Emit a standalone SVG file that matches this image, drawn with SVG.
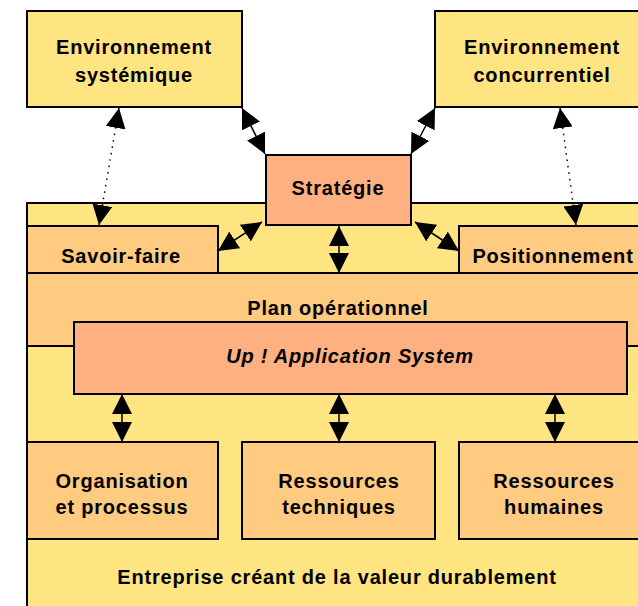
<svg xmlns="http://www.w3.org/2000/svg" width="638" height="606" viewBox="0 0 638 606">
<style>
  .y { fill: #FFE482; stroke: #000; stroke-width: 2; }
  .o { fill: #FECB80; stroke: #000; stroke-width: 2; }
  .s { fill: #FFB080; stroke: #000; stroke-width: 2; }
  text { font-family: "Liberation Sans", Arial, sans-serif; font-weight: bold; font-size: 20px; letter-spacing: 0.8px; text-anchor: middle; fill: #000; }
  .it { font-style: italic; letter-spacing: 0.8px; }
  .c { stroke: #000; stroke-width: 1.5; fill: none; }
  .d { stroke: #000; stroke-width: 1.5; fill: none; stroke-dasharray: 1.5 5; }
</style>
<defs>
  <marker id="ah" markerUnits="userSpaceOnUse" markerWidth="21" markerHeight="20" refX="20" refY="10" orient="auto-start-reverse" viewBox="0 0 21 20">
    <path d="M0,0 L20,10 L0,20 z" fill="#000"/>
  </marker>
</defs>
<rect width="638" height="606" fill="#fff"/>
<g id="entreprise">
  <rect class="y" x="27" y="203" width="630" height="420"/>
  <text x="337" y="584">Entreprise créant de la valeur durablement</text>
</g>
<g id="savoir-faire">
  <rect class="o" x="27" y="226" width="191" height="47"/>
  <text x="121" y="263">Savoir-faire</text>
</g>
<g id="positionnement">
  <rect class="o" x="459" y="226" width="190" height="47"/>
  <text x="553" y="263">Positionnement</text>
</g>
<g id="plan">
  <rect class="o" x="27" y="273" width="630" height="73"/>
  <text x="338" y="315">Plan opérationnel</text>
</g>
<g id="up">
  <rect class="s" x="74" y="322" width="553" height="72"/>
  <text class="it" x="350" y="363">Up ! Application System</text>
</g>
<g id="organisation">
  <rect class="o" x="27" y="442" width="191" height="97"/>
  <text x="122" y="488">Organisation</text>
  <text x="122" y="514">et processus</text>
</g>
<g id="ressources-techniques">
  <rect class="o" x="242" y="442" width="193" height="97"/>
  <text x="339" y="488">Ressources</text>
  <text x="339" y="514">techniques</text>
</g>
<g id="ressources-humaines">
  <rect class="o" x="459" y="442" width="190" height="97"/>
  <text x="554" y="488">Ressources</text>
  <text x="554" y="514">humaines</text>
</g>
<g id="env-systemique">
  <rect class="y" x="27" y="11" width="215" height="96"/>
  <text x="134" y="54">Environnement</text>
  <text x="134" y="82">systémique</text>
</g>
<g id="env-concurrentiel">
  <rect class="y" x="435" y="11" width="214" height="96"/>
  <text x="542" y="54">Environnement</text>
  <text x="542" y="82">concurrentiel</text>
</g>
<g id="connectors">
  <line class="d" x1="119" y1="108" x2="99" y2="225" marker-start="url(#ah)" marker-end="url(#ah)"/>
  <line class="d" x1="560" y1="108" x2="576" y2="225" marker-start="url(#ah)" marker-end="url(#ah)"/>
  <line class="c" x1="242" y1="108" x2="265" y2="154" marker-start="url(#ah)" marker-end="url(#ah)"/>
  <line class="c" x1="435" y1="108" x2="411" y2="154" marker-start="url(#ah)" marker-end="url(#ah)"/>
  <line class="c" x1="218" y1="251" x2="262" y2="222" marker-start="url(#ah)" marker-end="url(#ah)"/>
  <line class="c" x1="459" y1="251" x2="415" y2="222" marker-start="url(#ah)" marker-end="url(#ah)"/>
  <line class="c" x1="339" y1="226" x2="339" y2="273" marker-start="url(#ah)" marker-end="url(#ah)"/>
  <line class="c" x1="122" y1="394" x2="122" y2="442" marker-start="url(#ah)" marker-end="url(#ah)"/>
  <line class="c" x1="339" y1="394" x2="339" y2="442" marker-start="url(#ah)" marker-end="url(#ah)"/>
  <line class="c" x1="555" y1="394" x2="555" y2="442" marker-start="url(#ah)" marker-end="url(#ah)"/>
</g>
<g id="strategie">
  <rect class="s" x="266" y="155" width="145" height="70"/>
  <text x="338" y="195">Stratégie</text>
</g>
</svg>
